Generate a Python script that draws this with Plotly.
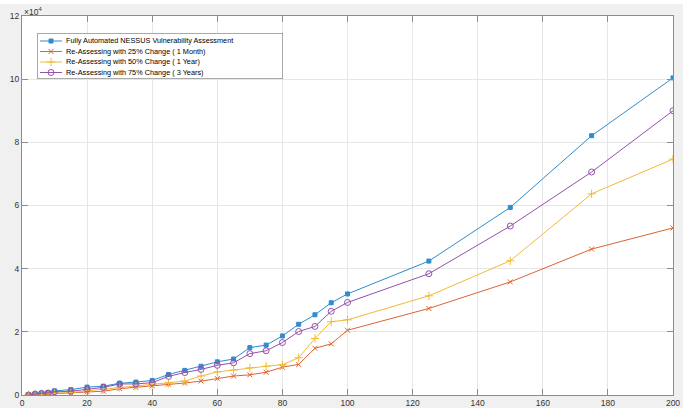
import plotly.graph_objects as go

x_vals = [2, 4, 6, 8, 10, 15, 20, 25, 30, 35, 40, 45, 50, 55, 60, 65, 70, 75, 80, 85, 90, 95, 100, 125, 150, 175, 200]

fully_automated = [0.0, 0.03, 0.06, 0.08, 0.13, 0.17, 0.25, 0.28, 0.37, 0.41, 0.46, 0.65, 0.78, 0.91, 1.05, 1.14, 1.50, 1.58, 1.87, 2.24, 2.54, 2.92, 3.20, 4.24, 5.94, 8.21, 10.04]
change_25 = [0.0, 0.01, 0.02, 0.03, 0.04, 0.06, 0.10, 0.12, 0.20, 0.24, 0.29, 0.34, 0.38, 0.44, 0.52, 0.60, 0.64, 0.72, 0.88, 0.97, 1.48, 1.62, 2.05, 2.74, 3.58, 4.62, 5.29]
change_50 = [0.0, 0.02, 0.03, 0.04, 0.06, 0.08, 0.13, 0.18, 0.24, 0.28, 0.33, 0.37, 0.44, 0.60, 0.73, 0.79, 0.86, 0.91, 0.96, 1.18, 1.79, 2.32, 2.38, 3.14, 4.25, 6.37, 7.47]
change_75 = [0.0, 0.03, 0.05, 0.06, 0.10, 0.12, 0.19, 0.24, 0.35, 0.35, 0.39, 0.59, 0.71, 0.81, 0.94, 1.02, 1.31, 1.40, 1.66, 2.01, 2.17, 2.65, 2.93, 3.84, 5.35, 7.06, 9.00]

series_names = [
    "Fully Automated NESSUS Vulnerability Assessment",
    "Re-Assessing with 25% Change ( 1 Month)",
    "Re-Assessing with 50% Change ( 1 Year)",
    "Re-Assessing with 75% Change ( 3 Years)",
]
x_ticks = [0, 20, 40, 60, 80, 100, 120, 140, 160, 180, 200]
y_ticks = [0, 2, 4, 6, 8, 10, 12]

colors = ["#2E8CCF", "#DD6333", "#F0BA38", "#9550AA"]
symbols = ["square", "x-thin-open", "cross-thin-open", "circle-open"]
sizes = [4, 5, 6, 6]

W, H = 691, 408
L, R, T, B = 22, 18, 16, 13
pw, ph = W - L - R, H - T - B

fig = go.Figure()
all_series = [fully_automated, change_25, change_50, change_75]
for name, ys, c, s, sz in zip(series_names, all_series, colors, symbols, sizes):
    fig.add_trace(go.Scatter(
        x=x_vals, y=ys, name=name, mode="lines+markers", showlegend=False,
        line=dict(color=c, width=1),
        marker=dict(symbol=s, size=sz, color=c, line=dict(color=c, width=1)),
    ))

# custom compact legend (MATLAB-style), drawn on an overlay axis measured in pixels
leg_left, leg_right, leg_top, leg_bottom = 37.5, 283, 33, 79
leg_w, leg_h = leg_right - leg_left, leg_bottom - leg_top
row_offsets = [8, 18.5, 29, 39.5]
for name, c, s, sz, ry in zip(series_names, colors, symbols, sizes, row_offsets):
    fig.add_trace(go.Scatter(
        x=[2.5, 13.5, 24.5], y=[ry, ry, ry], xaxis="x2", yaxis="y2",
        mode="lines", line=dict(color=c, width=1), showlegend=False, hoverinfo="skip",
    ))
    fig.add_trace(go.Scatter(
        x=[13.5], y=[ry], xaxis="x2", yaxis="y2", mode="markers",
        marker=dict(symbol=s, size=sz, color=c, line=dict(color=c, width=1)),
        showlegend=False, hoverinfo="skip",
    ))

axis_common = dict(
    showgrid=True, gridcolor="#e6e6e6", gridwidth=1,
    showline=True, linecolor="#8c8c8c", linewidth=1, mirror="ticks",
    ticks="inside", ticklen=6, tickcolor="#8c8c8c",
    zeroline=False, automargin=False,
    tickfont=dict(family="Liberation Sans, Arial", size=8.5, color="#333333"),
)

annotations = [dict(
    text="×10<sup>4</sup>", xref="paper", yref="paper",
    x=0.0, y=1.0, xanchor="left", yanchor="bottom", showarrow=False,
    font=dict(size=8.5, color="#333333"), xshift=0, yshift=-3,
)]
for name, ry in zip(series_names, row_offsets):
    annotations.append(dict(
        text=name, xref="x2", yref="y2", x=26, y=ry, xanchor="left", yanchor="middle",
        showarrow=False, font=dict(size=7.3, color="#000000", family="Liberation Sans, Arial"),
    ))

fig.update_layout(
    width=W, height=H,
    margin=dict(l=L, r=R, t=T, b=B, pad=0),
    paper_bgcolor="white", plot_bgcolor="white",
    font=dict(family="Liberation Sans, Arial", size=9, color="#262626"),
    xaxis=dict(range=[0, 200], tickvals=x_ticks, **axis_common),
    yaxis=dict(range=[0, 12], tickvals=y_ticks, **axis_common),
    xaxis2=dict(domain=[(leg_left - L) / pw, (leg_right - L) / pw], range=[0, leg_w],
                visible=False, anchor="y2"),
    yaxis2=dict(domain=[(H - B - leg_bottom) / ph, (H - B - leg_top) / ph], range=[leg_h, 0],
                visible=False, anchor="x2"),
    shapes=[
        dict(type="rect", xref="paper", yref="paper", layer="below",
             x0=-L / pw, x1=(683 - L) / pw, y0=(H - B - 408) / ph, y1=(H - B - 4) / ph,
             fillcolor="#f0f0f0", line=dict(width=0)),
        dict(type="rect", xref="paper", yref="paper", layer="below",
             x0=0, x1=1, y0=0, y1=1, fillcolor="white", line=dict(width=0)),
        dict(type="rect", xref="x2", yref="y2", layer="between",
             x0=0, x1=leg_w, y0=0, y1=leg_h, fillcolor="white",
             line=dict(color="#555555", width=1)),
    ],
    annotations=annotations,
)

fig.write_html(
    "out.html",
    config={"displayModeBar": False},
    post_script="document.body.style.margin='0';document.body.style.overflow='hidden';",
)
